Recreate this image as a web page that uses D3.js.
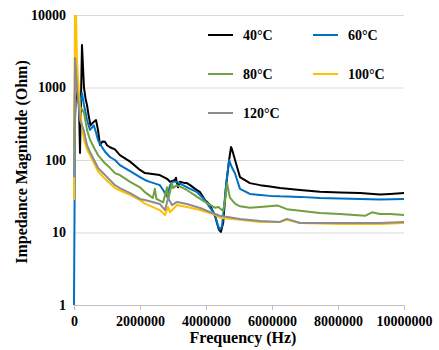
<!DOCTYPE html>
<html>
<head>
<meta charset="utf-8">
<script src="https://cdn.jsdelivr.net/npm/d3@7"></script>
<style>
  body { margin: 0; background: #fff; }
  svg text { font-family: 'Liberation Serif', 'Times New Roman', serif; font-weight: bold; fill: #000; }
</style>
</head>
<body>
<div id="chart"></div>
<script>
// [frequency (Hz), impedance magnitude (Ohm)]
const imp40 = [[0,150],[60000,900],[150000,600],[182000,125],[242000,3850],[303000,985],[350000,700],[394000,574],[440000,420],[500000,300],[580000,330],[667000,356],[727000,260],[788000,161],[860000,180],[939000,178],[1000000,160],[1090000,150],[1240000,140],[1390000,117],[1700000,95],[2000000,73],[2150000,66],[2600000,62],[2820000,55],[2910000,50],[3000000,52],[3060000,53],[3090000,57],[3120000,48],[3150000,42],[3210000,50],[3360000,48],[3420000,48],[3520000,45],[3670000,40],[3820000,36],[3970000,28],[4120000,24],[4270000,17],[4390000,11],[4450000,10.2],[4520000,13.5],[4610000,45],[4700000,100],[4760000,151],[4790000,140],[4880000,100],[5030000,58],[5330000,48],[5640000,45],[5940000,43],[6240000,41],[6850000,38.6],[7450000,36.5],[8060000,35.5],[8670000,35],[9270000,33.5],[9580000,34],[10000000,35]];
const imp60 = [[0,1],[40000,1500],[120000,900],[182000,600],[242000,830],[303000,574],[394000,356],[485000,260],[600000,300],[667000,240],[727000,189],[850000,150],[939000,130],[1090000,110],[1240000,100],[1390000,85],[1700000,70],[2000000,58],[2150000,53],[2300000,50],[2600000,45],[2700000,38.6],[2820000,31],[2910000,45],[3000000,50],[3120000,50],[3300000,45],[3520000,40],[3730000,36],[3970000,28],[4120000,22],[4270000,18],[4360000,12.5],[4420000,11],[4480000,12],[4520000,17],[4610000,45],[4700000,100],[4790000,78],[4880000,65],[5030000,40],[5330000,34],[5640000,33],[5940000,32],[6240000,31.5],[6850000,31],[7450000,30],[8060000,29.5],[8670000,29],[9270000,28.5],[10000000,29]];
const imp80 = [[0,100],[40000,2200],[120000,800],[182000,540],[242000,500],[303000,450],[394000,260],[485000,190],[600000,150],[727000,117],[939000,90],[1090000,78],[1240000,66],[1390000,62],[1700000,50],[2000000,42],[2150000,36],[2300000,32],[2390000,30],[2450000,40],[2500000,29],[2700000,26],[2820000,42],[2850000,28],[2970000,48],[3000000,41],[3120000,45],[3420000,38.6],[3730000,31],[4030000,25.5],[4270000,22],[4380000,22.5],[4450000,21],[4520000,20],[4580000,28],[4640000,48],[4700000,34],[4730000,30],[4880000,25],[5030000,23],[5330000,22],[5640000,22.5],[6180000,23.5],[6450000,21],[6850000,20],[7450000,18.6],[8060000,18],[8820000,17],[9030000,19],[9270000,18],[9580000,18],[10000000,17.4]];
const imp100 = [[0,28],[30000,10000],[60000,10000],[90000,2400],[150000,800],[182000,490],[303000,190],[394000,140],[485000,117],[727000,70],[939000,55],[1240000,41],[1390000,38],[1700000,33],[2000000,28],[2150000,25],[2600000,20.4],[2760000,17.4],[2850000,22.5],[2910000,19],[3120000,23.9],[3420000,22.5],[3820000,20.4],[4300000,17.4],[4420000,16],[5030000,15],[5640000,14],[6240000,14],[6450000,15],[6850000,13.5],[8060000,13.1],[9270000,13.1],[10000000,13.5]];
const imp120 = [[0,58],[30000,2550],[90000,930],[182000,356],[303000,250],[394000,160],[485000,129],[727000,78],[939000,62],[1240000,45],[1390000,41],[1700000,35],[2000000,29],[2150000,28],[2600000,24.7],[2760000,20.4],[2850000,29.9],[2970000,23.9],[3120000,26.4],[3420000,24.7],[3820000,21.8],[4120000,19.2],[4420000,17],[5030000,15.4],[5640000,14.4],[6240000,14],[6450000,15.4],[6850000,13.5],[8060000,13.5],[9270000,13.5],[10000000,14]];

const seriesNames = ['40°C', '60°C', '80°C', '100°C', '120°C'];
const seriesData = [imp40, imp60, imp80, imp100, imp120];
const colors = ['#000000', '#0070C0', '#70A040', '#FFC000', '#8C8C8C'];

const xTicks = [0, 2000000, 4000000, 6000000, 8000000, 10000000];
const yTicks = [1, 10, 100, 1000, 10000];

const width = 439, height = 350;
const margin = { top: 15, right: 35, bottom: 45, left: 74 };
const innerW = width - margin.left - margin.right;
const innerH = height - margin.top - margin.bottom;

const x = d3.scaleLinear().domain([0, 10000000]).range([0, innerW]);
const y = d3.scaleLog().domain([1, 10000]).range([innerH, 0]);

const svg = d3.select('#chart').append('svg')
	.attr('width', width).attr('height', height);
const graph = svg.append('g')
	.attr('transform', `translate(${margin.left}, ${margin.top})`);

graph.append('clipPath').attr('id', 'clip')
	.append('rect').attr('x', -2).attr('y', 0).attr('width', innerW + 4).attr('height', innerH);

// horizontal gridlines + y labels
const yAxis = graph.append('g')
	.call(d3.axisLeft(y).tickValues(yTicks).tickFormat(d3.format('d'))
		.tickSizeInner(-innerW).tickSizeOuter(0).tickPadding(8));
yAxis.select('.domain').remove();
yAxis.selectAll('line').attr('stroke', '#D9D9D9').attr('stroke-width', 1);
yAxis.selectAll('text').style('font-size', '14px');

// x axis
const xAxis = graph.append('g').attr('transform', `translate(0, ${innerH})`)
	.call(d3.axisBottom(x).tickValues(xTicks).tickFormat(d3.format('d'))
		.tickSizeInner(5).tickSizeOuter(0).tickPadding(6));
xAxis.select('.domain').attr('stroke', '#BFBFBF');
xAxis.selectAll('line').attr('stroke', '#BFBFBF');
xAxis.selectAll('text').style('font-size', '14px');

const line = d3.line()
	.x(d => x(d[0]))
	.y(d => y(d[1]));

graph.append('g').attr('clip-path', 'url(#clip)')
	.selectAll('path').data(seriesData).join('path')
	.attr('fill', 'none')
	.attr('stroke', (d, i) => colors[i])
	.attr('stroke-width', 2)
	.attr('stroke-linejoin', 'round')
	.attr('d', line);

// legend
const legendPos = [[208, 35], [313, 35], [208, 74], [313, 74], [208, 113]];
const legend = svg.append('g');
seriesNames.forEach((name, i) => {
	const [lx, ly] = legendPos[i];
	legend.append('line')
		.attr('x1', lx).attr('x2', lx + 25).attr('y1', ly).attr('y2', ly)
		.attr('stroke', colors[i]).attr('stroke-width', 2);
	legend.append('text')
		.attr('x', lx + 35).attr('y', ly + 5)
		.style('font-size', '14px')
		.text(name);
});

// axis titles
svg.append('text')
	.attr('x', margin.left + innerW / 2 + 4).attr('y', 343)
	.attr('text-anchor', 'middle').style('font-size', '16px')
	.text('Frequency (Hz)');
svg.append('text')
	.attr('transform', `translate(27, ${margin.top + innerH / 2 + 2}) rotate(-90)`)
	.attr('text-anchor', 'middle').style('font-size', '16px')
	.text('Impedance Magnitude (Ohm)');
</script>
</body>
</html>
